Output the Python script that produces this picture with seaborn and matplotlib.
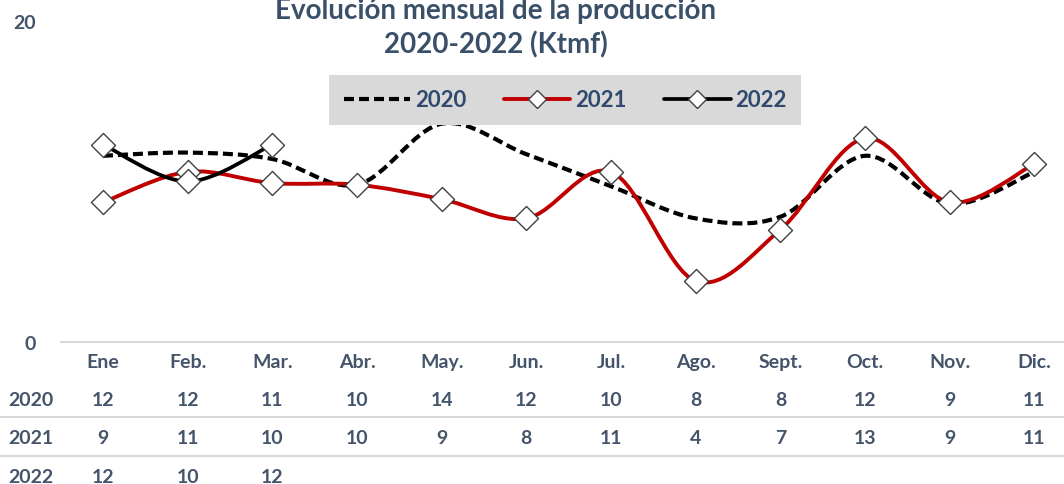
"""
Evolución mensual de la producción 2020-2022 (Ktmf)
Smoothed Excel-style line chart with a data table underneath.
"""

import numpy as np
import pandas as pd
import matplotlib
matplotlib.use("Agg")
import matplotlib.pyplot as plt
import seaborn as sns
from matplotlib.path import Path
from matplotlib.patches import PathPatch
from matplotlib.lines import Line2D

# === 1. Data ===
months = ["Ene", "Feb.", "Mar.", "Abr.", "May.", "Jun.", "Jul.",
          "Ago.", "Sept.", "Oct.", "Nov.", "Dic."]
prod_2020 = [11.6, 11.8, 11.4, 9.8, 13.6, 11.7, 9.7, 7.7, 7.8, 11.6, 8.6, 10.6]
prod_2021 = [8.7, 10.6, 9.9, 9.8, 8.9, 7.7, 10.6, 3.8, 7.0, 12.7, 8.7, 11.1]
prod_2022 = [12.3, 10.0, 12.3]
years = ["2020", "2021", "2022"]
y_ticks = [0, 20]

series = {"2020": prod_2020, "2021": prod_2021, "2022": prod_2022}
rows = []
for yr, vals in series.items():
    for i, v in enumerate(vals):
        rows.append({"mes": i, "anio": yr, "valor": v})
df = pd.DataFrame(rows)

# === 2. Style ===
TEXT = "#44546a"
TITLE = "#3a5068"
LEGEND_TXT = "#2f4a6e"
RED = "#c00000"

sns.set_theme(style="white")
plt.rcParams["font.family"] = ["Lato", "DejaVu Sans"]
plt.rcParams["font.weight"] = "bold"

fig = plt.figure(figsize=(10.64, 4.85), dpi=100)
ax = fig.add_axes([0.057, 0.2928, 0.955, 0.6619])


def smooth_path(xs, ys):
    # Excel-like smoothed line: Catmull-Rom segments as cubic Beziers
    pts = np.column_stack([xs, ys]).astype(float)
    n = len(pts)
    verts = [pts[0]]
    codes = [Path.MOVETO]
    for i in range(n - 1):
        p0 = pts[max(i - 1, 0)]
        p1 = pts[i]
        p2 = pts[i + 1]
        p3 = pts[min(i + 2, n - 1)]
        verts += [p1 + (p2 - p0) / 6, p2 - (p3 - p1) / 6, p2]
        codes += [Path.CURVE4] * 3
    return Path(verts, codes)


line_styles = {
    "2020": dict(color="black", lw=3.0, ls=(0, (2.4, 1.2))),
    "2021": dict(color=RED, lw=2.8, ls="-"),
    "2022": dict(color="black", lw=2.7, ls="-"),
}

for yr in years:
    d = df[df["anio"] == yr]
    st = line_styles[yr]
    ax.add_patch(PathPatch(smooth_path(d["mes"], d["valor"]), facecolor="none",
                           edgecolor=st["color"], lw=st["lw"], linestyle=st["ls"],
                           capstyle="butt", zorder=2))

# diamond markers for 2021 and 2022
sns.scatterplot(data=df[df["anio"] != "2020"], x="mes", y="valor", marker="D",
                s=150, color="white", edgecolor="#404040", linewidth=1.0,
                legend=False, zorder=3, ax=ax)

# === 3. Axes ===
ax.set_xlim(-0.5, 11.5)
ax.set_ylim(0, 20)
ax.set_xlabel("")
ax.set_ylabel("")
for side in ["top", "right", "left"]:
    ax.spines[side].set_visible(False)
ax.spines["bottom"].set_color("#d9d9d9")
ax.spines["bottom"].set_linewidth(1.5)
ax.set_yticks(y_ticks)
ax.set_yticklabels([str(t) for t in y_ticks], color=TEXT, fontsize=14, fontweight="bold")
ax.set_xticks(range(len(months)))
ax.set_xticklabels(months, color=TEXT, fontsize=14, fontweight="bold")
ax.tick_params(axis="both", length=0)
ax.tick_params(axis="y", pad=18)
ax.tick_params(axis="x", pad=8)
ax.grid(False)

# === 4. Data table ===
row_y = {"2020": -0.178, "2021": -0.298, "2022": -0.418}
for yr in years:
    vals = series[yr]
    for i, v in enumerate(vals):
        ax.text(i, row_y[yr], f"{v:.0f}", transform=ax.get_xaxis_transform(),
                ha="center", va="center", color=TEXT, fontsize=14,
                fontweight="bold", clip_on=False)
    fig.text(8 / 1064, 0.2928 + row_y[yr] * 0.6619, yr, ha="left", va="center",
             color=TEXT, fontsize=14, fontweight="bold")

for ypix in [418, 457]:
    fig.add_artist(Line2D([0, 1], [1 - ypix / 485, 1 - ypix / 485],
                          transform=fig.transFigure, color="#d9d9d9", lw=1.5))

# === 5. Title and legend ===
fig.text(0.466, 0.942, "Evolución mensual de la producción\n2020-2022 (Ktmf)",
         ha="center", va="center", color=TITLE, fontsize=20, fontweight="bold",
         linespacing=1.3)

handles = [
    Line2D([], [], color="black", lw=3.0, ls=(0, (2.4, 1.2))),
    Line2D([], [], color=RED, lw=2.8, marker="D", markersize=9,
           markerfacecolor="white", markeredgecolor="#404040"),
    Line2D([], [], color="black", lw=2.7, marker="D", markersize=9,
           markerfacecolor="white", markeredgecolor="#404040"),
]
leg = fig.legend(handles, years, loc="center", bbox_to_anchor=(0.531, 0.792),
                 ncol=3, frameon=True, fancybox=False, facecolor="#d9d9d9",
                 edgecolor="none", framealpha=1, handlelength=3,
                 handletextpad=0.2, columnspacing=1.7, borderpad=0.65,
                 prop=dict(weight="bold", size=16), labelcolor=LEGEND_TXT)

fig.savefig("out.png", dpi=100)
plt.close(fig)
